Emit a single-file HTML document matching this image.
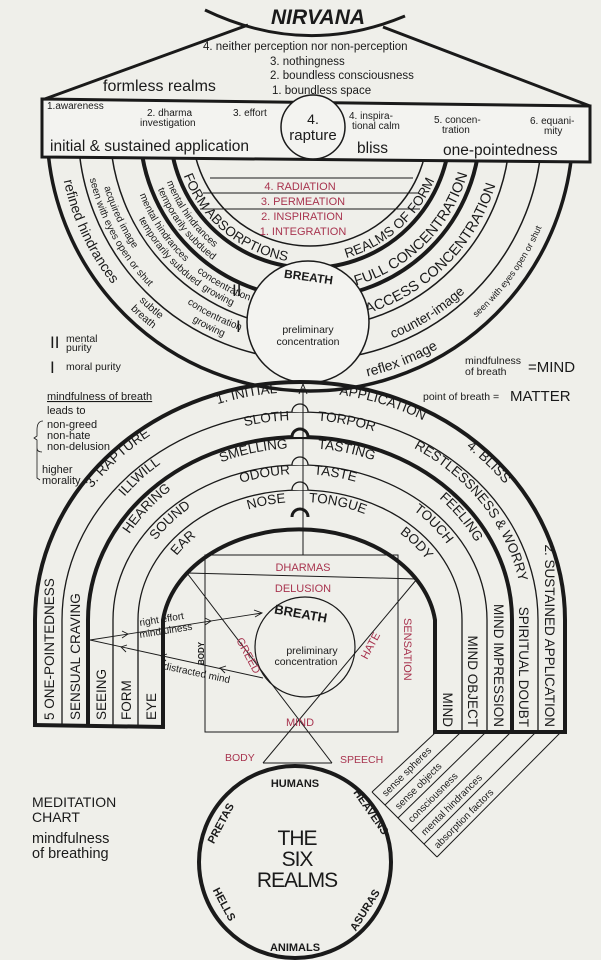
<!DOCTYPE html>
<html><head><meta charset="utf-8"><style>
html,body{margin:0;padding:0;background:#efefea}
svg{display:block}
text{font-family:"Liberation Sans",sans-serif;fill:#1a1a1a}
.p{fill:#a8344f}
</style></head><body>
<svg width="601" height="960" viewBox="0 0 601 960" xmlns="http://www.w3.org/2000/svg">
<defs>
<clipPath id="bowlclip"><rect x="0" y="157" width="601" height="260"/></clipPath>
<path id="b255" d="M55,128 A255,255 0 0 0 565,128"/>
<path id="b252" d="M58,128 A252,252 0 0 0 562,128"/>
<path id="b243" d="M67,128 A243,243 0 0 0 553,128"/>
<path id="b226" d="M84,128 A226,226 0 0 0 536,128"/>
<path id="b214" d="M96,128 A214,214 0 0 0 524,128"/>
<path id="b194" d="M116,128 A194,194 0 0 0 504,128"/>
<path id="b183" d="M127,128 A183,183 0 0 0 493,128"/>
<path id="b164" d="M146,128 A164,164 0 0 0 474,128"/>
<path id="b153" d="M157,128 A153,153 0 0 0 463,128"/>
<path id="b135" d="M175,128 A135,135 0 0 0 445,128"/>
<path id="a1" d="M45,620 A255,228 0 0 1 555,620"/>
<path id="a2" d="M77,620 A223,200 0 0 1 523,620"/>
<path id="a3" d="M103,620 A197,172 0 0 1 497,620"/>
<path id="a4" d="M128,620 A172,146 0 0 1 472,620"/>
<path id="a5" d="M153,620 A147,118 0 0 1 447,620"/>
</defs>

<path d="M205,10 Q305,58 405,16" fill="none" stroke="#1a1a1a" stroke-width="3"/>
<text x="318" y="24" font-size="21" font-weight="bold" font-style="italic" text-anchor="middle">NIRVANA</text>
<line x1="248" y1="25" x2="42" y2="100" stroke="#1a1a1a" stroke-width="3"/>
<line x1="383" y1="27" x2="590" y2="106" stroke="#1a1a1a" stroke-width="3"/>
<text x="203" y="50" font-size="11.5">4. neither perception nor non-perception</text>
<text x="270" y="65" font-size="11.5">3. nothingness</text>
<text x="270" y="79" font-size="11.5">2. boundless consciousness</text>
<text x="272" y="94" font-size="11.5">1. boundless space</text>
<text x="103" y="91" font-size="16">formless realms</text>

<g clip-path="url(#bowlclip)" fill="none" stroke="#1a1a1a">
<circle cx="310" cy="128" r="263" stroke-width="3.5"/>
<circle cx="310" cy="128" r="232" stroke-width="1.5"/>
<circle cx="310" cy="128" r="200" stroke-width="1.5"/>
<circle cx="310" cy="128" r="170" stroke-width="4"/>
<circle cx="310" cy="128" r="140" stroke-width="4"/>
<circle cx="310" cy="128" r="118" stroke-width="1.5"/>
</g>
<path d="M42,99 L590,106 L590,162 L42,157 Z" fill="#f3f3f0" stroke="#1a1a1a" stroke-width="3"/>
<circle cx="313" cy="127" r="32" fill="#f3f3f0" stroke="#1a1a1a" stroke-width="1.5"/>
<text x="313" y="124" font-size="14" text-anchor="middle">4.</text>
<text x="313" y="140" font-size="15" text-anchor="middle">rapture</text>
<text x="47" y="109" font-size="10">1.awareness</text>
<text x="147" y="116" font-size="10">2. dharma</text>
<text x="140" y="126" font-size="10">investigation</text>
<text x="233" y="116" font-size="10">3. effort</text>
<text x="349" y="119" font-size="10">4. inspira-</text>
<text x="352" y="129" font-size="10">tional calm</text>
<text x="434" y="123" font-size="10">5. concen-</text>
<text x="442" y="133" font-size="10">tration</text>
<text x="530" y="124" font-size="10">6. equani-</text>
<text x="544" y="134" font-size="10">mity</text>
<text x="50" y="151" font-size="15.5">initial &amp; sustained application</text>
<text x="357" y="153" font-size="15.5">bliss</text>
<text x="443" y="155" font-size="15.5">one-pointedness</text>

<g stroke="#1a1a1a" stroke-width="1">
<line x1="210" y1="178" x2="413" y2="178"/>
<line x1="203" y1="193" x2="418" y2="193"/>
<line x1="200" y1="209" x2="420" y2="209"/>
</g>
<text x="300" y="190" font-size="11" class="p" text-anchor="middle">4. RADIATION</text>
<text x="303" y="205" font-size="11" class="p" text-anchor="middle">3. PERMEATION</text>
<text x="302" y="220" font-size="11" class="p" text-anchor="middle">2. INSPIRATION</text>
<text x="303" y="235" font-size="11" class="p" text-anchor="middle">1. INTEGRATION</text>

<text font-size="14"><textPath href="#b252" startOffset="14%" text-anchor="middle">refined hindrances</textPath></text>
<text font-size="10.5"><textPath href="#b243" startOffset="27%" text-anchor="middle">subtle</textPath></text>
<text font-size="10.5"><textPath href="#b255" startOffset="27%" text-anchor="middle">breath</textPath></text>
<text font-size="10"><textPath href="#b214" startOffset="14%" text-anchor="middle">acquired image</textPath></text>
<text font-size="10"><textPath href="#b226" startOffset="16%" text-anchor="middle">seen with eyes open or shut</textPath></text>
<text font-size="10"><textPath href="#b214" startOffset="35%" text-anchor="middle">concentration</textPath></text>
<text font-size="10"><textPath href="#b226" startOffset="35%" text-anchor="middle">growing</textPath></text>
<text font-size="10"><textPath href="#b183" startOffset="19%" text-anchor="middle">mental hindrances</textPath></text>
<text font-size="10"><textPath href="#b194" startOffset="23%" text-anchor="middle">temporarily   subdued</textPath></text>
<text font-size="10"><textPath href="#b183" startOffset="34%" text-anchor="middle">concentration</textPath></text>
<text font-size="10"><textPath href="#b194" startOffset="34%" text-anchor="middle">growing</textPath></text>
<text font-size="10"><textPath href="#b153" startOffset="20%" text-anchor="middle">mental hindrances</textPath></text>
<text font-size="10"><textPath href="#b164" startOffset="21%" text-anchor="middle">temporarily subdued</textPath></text>
<text font-size="13.5"><textPath href="#b135" startOffset="28%" text-anchor="middle">FORM ABSORPTIONS</textPath></text>
<text font-size="13.5"><textPath href="#b135" startOffset="73%" text-anchor="middle">REALMS OF FORM</textPath></text>
<text font-size="14.5"><textPath href="#b164" startOffset="75%" text-anchor="middle">FULL CONCENTRATION</textPath></text>
<text font-size="14.5"><textPath href="#b194" startOffset="75%" text-anchor="middle">ACCESS CONCENTRATION</textPath></text>
<text font-size="13.5"><textPath href="#b226" startOffset="68%" text-anchor="middle">counter-image</textPath></text>
<text font-size="9"><textPath href="#b252" startOffset="80%" text-anchor="middle">seen with eyes open or shut</textPath></text>
<text font-size="14"><textPath href="#b255" startOffset="62%" text-anchor="middle">reflex image</textPath></text>

<circle cx="308" cy="322" r="61" fill="#f3f3f0" stroke="#1a1a1a" stroke-width="1.5"/>
<text x="308" y="281" font-size="12" font-weight="bold" text-anchor="middle" transform="rotate(8 308 281)">BREATH</text>
<text x="308" y="333" font-size="10.5" text-anchor="middle">preliminary</text>
<text x="308" y="345" font-size="10.5" text-anchor="middle">concentration</text>
<text x="232" y="296" font-size="17" font-family="Liberation Serif">II</text>
<text x="236" y="332" font-size="17" font-family="Liberation Serif">I</text>
<text x="50" y="348" font-size="17" font-family="Liberation Serif">II</text>
<text x="66" y="342" font-size="10.5">mental</text>
<text x="66" y="351" font-size="10.5">purity</text>
<text x="50" y="373" font-size="17" font-family="Liberation Serif">I</text>
<text x="66" y="370" font-size="10.5">moral purity</text>
<text x="465" y="364" font-size="10.5">mindfulness</text>
<text x="465" y="375" font-size="10.5">of breath</text>
<text x="528" y="372" font-size="15">=MIND</text>
<text x="423" y="400" font-size="10.5">point of breath = </text>
<text x="510" y="401" font-size="15">MATTER</text>

<text x="47" y="400" font-size="11" text-decoration="underline">mindfulness of breath</text>
<text x="47" y="414" font-size="11">leads to</text>
<text x="47" y="428" font-size="11">non-greed</text>
<text x="47" y="439" font-size="11">non-hate</text>
<text x="47" y="450" font-size="11">non-delusion</text>
<text x="42" y="473" font-size="11">higher</text>
<text x="42" y="484" font-size="11">morality</text>
<path d="M43,421 Q37,421 37,430 L37,436 L34,438 L37,440 L37,448 Q37,452 42,452 M37,440 L37,478 L40,480" fill="none" stroke="#1a1a1a" stroke-width="0.8"/>

<g fill="none" stroke="#1a1a1a">
<path d="M35,725 L35,620 A265,238 0 0 1 565,620 L565,732" stroke-width="4"/>
<path d="M62,725 L62,620 A238,208 0 0 1 538,620 L538,732" stroke-width="1.3"/>
<path d="M88,725 L88,620 A212,183 0 0 1 512,620 L512,732" stroke-width="4"/>
<path d="M113,725 L113,620 A187,155 0 0 1 487,620 L487,732" stroke-width="1.3"/>
<path d="M138,725 L138,620 A162,130 0 0 1 462,620 L462,732" stroke-width="1.3"/>
<path d="M163,725 L163,620 A137,103 0 0 1 435,620 L435,732" stroke-width="4"/>
<line x1="33" y1="725" x2="165" y2="727" stroke-width="4"/>
<line x1="433" y1="732" x2="567" y2="732" stroke-width="4"/>
</g>
<g fill="#efefea" stroke="#1a1a1a" stroke-width="1.3">
<path d="M292,412 a8,8 0 0 1 16,0"/>
<path d="M292,437 a8,8 0 0 1 16,0" stroke-width="3"/>
<path d="M292,465 a8,8 0 0 1 16,0"/>
<path d="M292,490 a8,8 0 0 1 16,0"/>
<path d="M292,517 a8,8 0 0 1 16,0" stroke-width="3"/>
</g>
<line x1="303" y1="555" x2="303" y2="388" stroke="#1a1a1a" stroke-width="1"/>
<path d="M299,394 L303,384 L307,394" fill="none" stroke="#1a1a1a" stroke-width="1"/>

<g font-size="13.5">
<text><textPath href="#a1" startOffset="43%" text-anchor="middle">1. INITIAL</textPath></text>
<text><textPath href="#a1" startOffset="61%" text-anchor="middle">APPLICATION</textPath></text>
<text><textPath href="#a1" startOffset="24%" text-anchor="middle">3. RAPTURE</textPath></text>
<text><textPath href="#a1" startOffset="77%" text-anchor="middle">4. BLISS</textPath></text>
<text><textPath href="#a2" startOffset="45%" text-anchor="middle">SLOTH</textPath></text>
<text><textPath href="#a2" startOffset="57%" text-anchor="middle">TORPOR</textPath></text>
<text><textPath href="#a2" startOffset="24%" text-anchor="middle">ILLWILL</textPath></text>
<text><textPath href="#a2" startOffset="81%" text-anchor="middle">RESTLESSNESS &amp; WORRY</textPath></text>
<text><textPath href="#a3" startOffset="42%" text-anchor="middle">SMELLING</textPath></text>
<text><textPath href="#a3" startOffset="58%" text-anchor="middle">TASTING</textPath></text>
<text><textPath href="#a3" startOffset="21%" text-anchor="middle">HEARING</textPath></text>
<text><textPath href="#a3" startOffset="81%" text-anchor="middle">FEELING</textPath></text>
<text><textPath href="#a4" startOffset="43%" text-anchor="middle">ODOUR</textPath></text>
<text><textPath href="#a4" startOffset="57%" text-anchor="middle">TASTE</textPath></text>
<text><textPath href="#a4" startOffset="22%" text-anchor="middle">SOUND</textPath></text>
<text><textPath href="#a4" startOffset="79%" text-anchor="middle">TOUCH</textPath></text>
<text><textPath href="#a5" startOffset="42%" text-anchor="middle">NOSE</textPath></text>
<text><textPath href="#a5" startOffset="59%" text-anchor="middle">TONGUE</textPath></text>
<text><textPath href="#a5" startOffset="20%" text-anchor="middle">EAR</textPath></text>
<text><textPath href="#a5" startOffset="80%" text-anchor="middle">BODY</textPath></text>
</g>
<g font-size="13.5">
<text transform="translate(54,720) rotate(-90)">5 ONE-POINTEDNESS</text>
<text transform="translate(80,720) rotate(-90)">SENSUAL CRAVING</text>
<text transform="translate(106,720) rotate(-90)">SEEING</text>
<text transform="translate(131,720) rotate(-90)">FORM</text>
<text transform="translate(156,720) rotate(-90)">EYE</text>
<text transform="translate(443,727) rotate(90)" text-anchor="end">MIND</text>
<text transform="translate(468,727) rotate(90)" text-anchor="end">MIND OBJECT</text>
<text transform="translate(494,727) rotate(90)" text-anchor="end">MIND IMPRESSION</text>
<text transform="translate(519,727) rotate(90)" text-anchor="end">SPIRITUAL  DOUBT</text>
<text transform="translate(545,727) rotate(90)" text-anchor="end">2. SUSTAINED APPLICATION</text>
</g>

<rect x="205" y="555" width="193" height="177" fill="none" stroke="#1a1a1a" stroke-width="1"/>
<line x1="187" y1="573" x2="417" y2="579" stroke="#1a1a1a" stroke-width="1"/>
<line x1="187" y1="573" x2="332" y2="763" stroke="#1a1a1a" stroke-width="1"/>
<line x1="417" y1="579" x2="263" y2="763" stroke="#1a1a1a" stroke-width="1"/>
<line x1="263" y1="763" x2="332" y2="763" stroke="#1a1a1a" stroke-width="1"/>
<text x="303" y="571" font-size="11" class="p" text-anchor="middle">DHARMAS</text>
<text x="303" y="592" font-size="11" class="p" text-anchor="middle">DELUSION</text>
<circle cx="305" cy="647" r="50" fill="none" stroke="#1a1a1a" stroke-width="1.2"/>
<text x="300" y="618" font-size="13" font-weight="bold" text-anchor="middle" transform="rotate(10 300 618)">BREATH</text>
<text x="312" y="654" font-size="10.5" text-anchor="middle">preliminary</text>
<text x="306" y="665" font-size="10.5" text-anchor="middle">concentration</text>
<text x="236" y="640" font-size="11" class="p" transform="rotate(62 236 640)">GREED</text>
<text x="367" y="660" font-size="11" class="p" transform="rotate(-62 367 660)">HATE</text>
<text x="404" y="618" font-size="11" class="p" transform="rotate(90 404 618)">SENSATION</text>
<text x="300" y="726" font-size="11" class="p" text-anchor="middle">MIND</text>
<text x="204" y="665" font-size="8" font-weight="bold" transform="rotate(-90 204 665)">BODY</text>
<g stroke="#1a1a1a" stroke-width="0.9" fill="none">
<line x1="90" y1="640" x2="262" y2="613"/>
<path d="M254,610 L262,613 L255,617"/>
<path d="M122,631 L128,634 L122,638"/>
<path d="M205,618 L211,621 L205,625"/>
<line x1="263" y1="678" x2="90" y2="640"/>
<path d="M127,645 L121,647 L126,652"/>
<path d="M167,654 L161,656 L166,661"/>
<path d="M226,666 L220,668 L225,673"/>
</g>
<text x="140" y="626" font-size="10" transform="rotate(-9 140 626)">right effort</text>
<text x="140" y="638" font-size="10" transform="rotate(-9 140 638)">mindfulness</text>
<text x="163" y="669" font-size="10" transform="rotate(12 163 669)">distracted mind</text>

<text x="225" y="761" font-size="10.5" class="p">BODY</text>
<text x="340" y="763" font-size="10.5" class="p">SPEECH</text>

<circle cx="295" cy="862" r="96" fill="none" stroke="#1a1a1a" stroke-width="4"/>
<text x="295" y="787" font-size="11" font-weight="bold" text-anchor="middle">HUMANS</text>
<text x="295" y="951" font-size="11" font-weight="bold" text-anchor="middle">ANIMALS</text>
<text x="368" y="814" font-size="11" font-weight="bold" text-anchor="middle" transform="rotate(55 368 814)">HEAVENS</text>
<text x="368" y="912" font-size="11" font-weight="bold" text-anchor="middle" transform="rotate(-58 368 912)">ASURAS</text>
<text x="224" y="825" font-size="11" font-weight="bold" text-anchor="middle" transform="rotate(-62 224 825)">PRETAS</text>
<text x="221" y="906" font-size="11" font-weight="bold" text-anchor="middle" transform="rotate(62 221 906)">HELLS</text>
<text x="297" y="845" font-size="21" text-anchor="middle" letter-spacing="-1">THE</text>
<text x="297" y="866" font-size="21" text-anchor="middle" letter-spacing="-1">SIX</text>
<text x="297" y="887" font-size="21" text-anchor="middle" letter-spacing="-1">REALMS</text>

<g stroke="#1a1a1a" stroke-width="1" fill="none">
<line x1="435" y1="733" x2="372" y2="792"/>
<line x1="460" y1="733" x2="385" y2="805"/>
<line x1="485" y1="733" x2="398" y2="818"/>
<line x1="510" y1="733" x2="411" y2="831"/>
<line x1="535" y1="733" x2="424" y2="844"/>
<line x1="560" y1="733" x2="437" y2="857"/>
<line x1="372" y1="792" x2="437" y2="857"/>
</g>
<g font-size="10">
<text transform="translate(386,797) rotate(-45)">sense spheres</text>
<text transform="translate(399,810) rotate(-45)">sense objects</text>
<text transform="translate(412,823) rotate(-45)">consciousness</text>
<text transform="translate(425,836) rotate(-45)">mental hindrances</text>
<text transform="translate(438,849) rotate(-45)">absorption factors</text>
</g>

<text x="32" y="807" font-size="14">MEDITATION</text>
<text x="32" y="822" font-size="14">CHART</text>
<text x="32" y="843" font-size="14.5">mindfulness</text>
<text x="32" y="858" font-size="14.5">of breathing</text>
</svg>
</body></html>
